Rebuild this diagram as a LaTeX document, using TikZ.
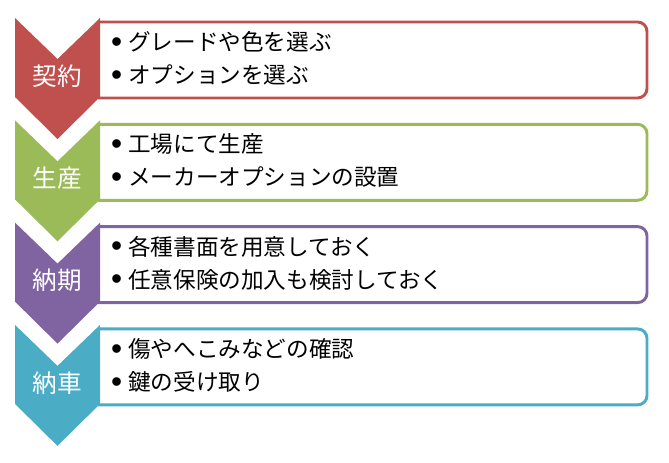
\documentclass[tikz,border=0pt]{standalone}
\usepackage{fontspec}
\setmainfont{Noto Sans CJK JP}
\newfontfamily\bulfont{Liberation Sans}
\definecolor{stepred}{HTML}{C0504D}
\definecolor{stepgreen}{HTML}{9BBB59}
\definecolor{steppurple}{HTML}{8064A2}
\definecolor{stepblue}{HTML}{4BACC6}
\newcommand{\bul}{\raisebox{-1.5pt}{\bulfont\fontsize{27}{27}\selectfont •}\hspace{5pt}}
\tikzset{
  chevron/.style={fill=#1, draw=none},
  listbox/.style={draw=#1, fill=white, line width=2.5pt, rounded corners=8pt},
  steplabel/.style={text=white, font=\fontsize{21}{21}\selectfont, inner sep=0pt},
  item/.style={anchor=west, font=\fontsize{19.3}{19.3}\selectfont, inner sep=0pt}
}
\begin{document}
\begin{tikzpicture}[x=.03cm, y=-.03cm, line join=round]
            \useasboundingbox (0,0) rectangle (669,462);
            \foreach \i/\col/\lab/\la/\lb in {0/stepred/契約/グレードや色を選ぶ/オプションを選ぶ,
                1/stepgreen/生産/工場にて生産/メーカーオプションの設置,
                2/steppurple/納期/各種書面を用意しておく/任意保険の加入も検討しておく,
                3/stepblue/納車/傷やへこみなどの確認/鍵の受け取り}{
                \pgfmathsetmacro\ty{18+102.3*\i}
                \draw[listbox=\col] (98,\ty+4) -- (647,\ty+4) -- (647,\ty+80) -- (98,\ty+80);
                \fill[chevron=\col] (15,\ty) -- (57.5,\ty+41) -- (100,\ty) -- (100,\ty+79)
                    -- (57.5,\ty+121) -- (15,\ty+79) -- cycle;
                \node[steplabel] (lab\i) at (57.5,\ty+58) {\lab};
                \node[item] (ia\i) at (111,\ty+24) {\bul\la};
                \node[item] (ib\i) at (111,\ty+57) {\bul\lb};
            }
    \end{tikzpicture}
\end{document}
